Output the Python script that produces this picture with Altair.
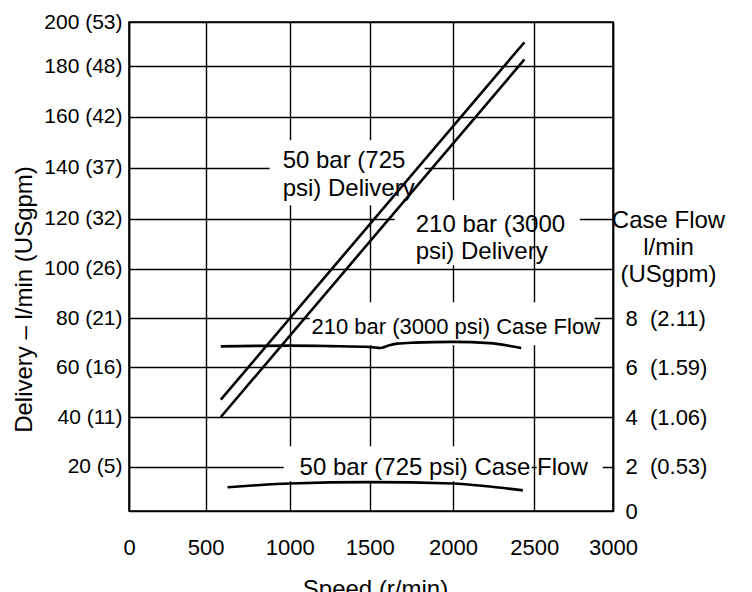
import altair as alt
import pandas as pd

FONT = "Liberation Sans"

# ---- axis ticks / labels ----
X_TICKS = [0, 500, 1000, 1500, 2000, 2500, 3000]
Y_TICKS = [20, 40, 60, 80, 100, 120, 140, 160, 180, 200]
Y_LABELS = ["20 (5)", "40 (11)", "60 (16)", "80 (21)", "100 (26)", "120 (32)",
            "140 (37)", "160 (42)", "180 (48)", "200 (53)"]
CF_TICKS = [0, 2, 4, 6, 8]
CF_LABELS = ["0", "2\u00a0\u00a0(0.53)", "4\u00a0\u00a0(1.06)", "6\u00a0\u00a0(1.59)", "8\u00a0\u00a0(2.11)"]

# ---- delivery lines (l/min) ----
DEL_SPEED = [590, 2440]
DEL_50 = [47, 190.8]
DEL_210 = [40, 183]

# ---- case flow curves (l/min) ----
CF210_SPEED = [590, 1000, 1250, 1510, 1562, 1612, 1666, 1768, 2000, 2225, 2420]
CF210 = [6.85, 6.88, 6.86, 6.82, 6.78, 6.88, 6.96, 7.0, 7.03, 6.98, 6.78]
CF50_SPEED = [630, 800, 1000, 1500, 2000, 2225, 2430]
CF50 = [1.07, 1.16, 1.24, 1.30, 1.24, 1.10, 0.93]

# ---- annotations ----
ANN_TEXT = ["50 bar (725", "psi) Delivery", "210 bar (3000", "psi) Delivery",
            "210 bar (3000 psi) Case Flow", "50 bar (725 psi) Case Flow"]
ANN_X = [958, 958, 1776, 1776, 1136, 1062]
ANN_Y = [139.7, 128.7, 114.5, 103.7, 73.4, 16.1]
ANN_SIZE = [24, 24, 24, 24, 22, 24]

BOX_X0 = [881, 1650, 2516, 1125, 964, 2516]
BOX_X1 = [1830, 2485, 2789, 2884, 2485, 2935]
BOX_Y0 = [125.2, 101.3, 101.3, 68.9, 13.4, 13.4]
BOX_Y1 = [150.7, 127.2, 127.2, 86.4, 28.2, 28.2]

# scale nodes (slightly irregular grid of the drawing)
X_NODES = X_TICKS
X_RANGE = [0, 76.7, 160.7, 240.7, 324, 405.2, 484]
Y_NODES = [0, 20, 40, 60, 80, 100, 120, 140, 160, 180, 200]
Y_RANGE = [489, 444.6, 395, 345.3, 296, 246.6, 196.6, 145.6, 94.6, 44, 0]
CF_NODES = [v / 10 for v in Y_NODES]

del_df = pd.DataFrame({
    "speed": DEL_SPEED + DEL_SPEED,
    "val": DEL_50 + DEL_210,
    "series": ["50"] * len(DEL_SPEED) + ["210"] * len(DEL_SPEED),
})
cf_df = pd.DataFrame({
    "speed": CF210_SPEED + CF50_SPEED,
    "cf": CF210 + CF50,
    "series": ["210"] * len(CF210_SPEED) + ["50"] * len(CF50_SPEED),
})
ann_df = pd.DataFrame({"text": ANN_TEXT, "x": ANN_X, "y": ANN_Y, "size": ANN_SIZE})
box_df = pd.DataFrame({"x0": BOX_X0, "x1": BOX_X1, "y0": BOX_Y0, "y1": BOX_Y1})


def label_expr(ticks, labels):
    expr = "''"
    for t, l in reversed(list(zip(ticks, labels))):
        expr = f"datum.value == {t} ? '{l}' : ({expr})"
    return expr


xscale = alt.Scale(domain=X_NODES, range=X_RANGE, nice=False, zero=False)
yscale = alt.Scale(domain=Y_NODES, range=Y_RANGE, nice=False, zero=False)
cfscale = alt.Scale(domain=CF_NODES, range=Y_RANGE, nice=False, zero=False)

xaxis = alt.Axis(
    values=X_TICKS, format="d", grid=True, gridColor="black", gridWidth=1.4, gridOpacity=1,
    domain=True, domainColor="black", domainWidth=1.5, ticks=False, tickSize=0,
    labelPadding=36, labelBaseline="middle", labelFontSize=22, labelFont=FONT,
    labelColor="black", labelFlush=False, labelOverlap=False,
    title="Speed (r/min)", titleFont=FONT, titleFontSize=24, titleFontWeight="normal",
    titleColor="black", titleX=246, titleY=85, titleAlign="center",
    titleBaseline="alphabetic",
)
yaxis = alt.Axis(
    values=Y_TICKS, grid=True, gridColor="black", gridWidth=1.4, gridOpacity=1,
    domain=True, domainColor="black", domainWidth=1.5, ticks=False, tickSize=0,
    labelPadding=7, labelBaseline="middle", labelAlign="right", labelFontSize=21,
    labelFont=FONT, labelColor="black", labelFlush=False, labelOverlap=False,
    labelExpr=label_expr(Y_TICKS, Y_LABELS),
    title="Delivery \u2013 l/min (USgpm)", titleFont=FONT, titleFontSize=24,
    titleFontWeight="normal", titleColor="black", titleAngle=-90,
    titleX=-105, titleY=277, titleAlign="center", titleBaseline="middle",
)
cfaxis = alt.Axis(
    orient="right", values=CF_TICKS, grid=False,
    domain=True, domainColor="black", domainWidth=1.5, ticks=False, tickSize=0,
    labelPadding=12, labelBaseline="middle", labelAlign="left", labelFontSize=22,
    labelFont=FONT, labelColor="black", labelFlush=False, labelOverlap=False,
    labelExpr=label_expr(CF_TICKS, CF_LABELS),
    title=["Case Flow", "l/min", "(USgpm)"], titleFont=FONT, titleFontSize=24,
    titleFontWeight="normal", titleColor="black", titleAngle=0,
    titleX=55, titleY=186, titleAlign="center", titleBaseline="top",
    titleLineHeight=27,
)

X_ENC = dict(scale=xscale, axis=xaxis)
Y_ENC = dict(scale=yscale, axis=yaxis)

boxes = alt.Chart(box_df).mark_rect(color="white", strokeWidth=0).encode(
    x=alt.X("x0:Q", **X_ENC),
    x2="x1:Q",
    y=alt.Y("y0:Q", **Y_ENC),
    y2="y1:Q",
)

delivery = alt.Chart(del_df).mark_line(color="black", strokeWidth=2.6).encode(
    x=alt.X("speed:Q", **X_ENC),
    y=alt.Y("val:Q", **Y_ENC),
    detail="series:N",
)

texts = alt.Chart(ann_df).mark_text(
    align="left", baseline="alphabetic", font=FONT, color="black"
).encode(
    x=alt.X("x:Q", **X_ENC),
    y=alt.Y("y:Q", **Y_ENC),
    text="text:N",
    size=alt.Size("size:Q", scale=None, legend=None),
)

case = alt.Chart(cf_df).mark_line(color="black", strokeWidth=2.6, interpolate="monotone").encode(
    x=alt.X("speed:Q", **X_ENC),
    y=alt.Y("cf:Q", scale=cfscale, axis=cfaxis),
    detail="series:N",
)

chart = alt.layer(
    alt.layer(boxes, texts, delivery),
    case,
).resolve_scale(y="independent").properties(
    width=484,
    height=489,
    autosize=alt.AutoSizeParams(type="none"),
    padding={"left": 121, "top": 14, "right": 131, "bottom": 90},
    background="white",
).configure_view(stroke="black", strokeWidth=1.5)

chart.save("out.html", embed_options={"renderer": "svg", "actions": False})
